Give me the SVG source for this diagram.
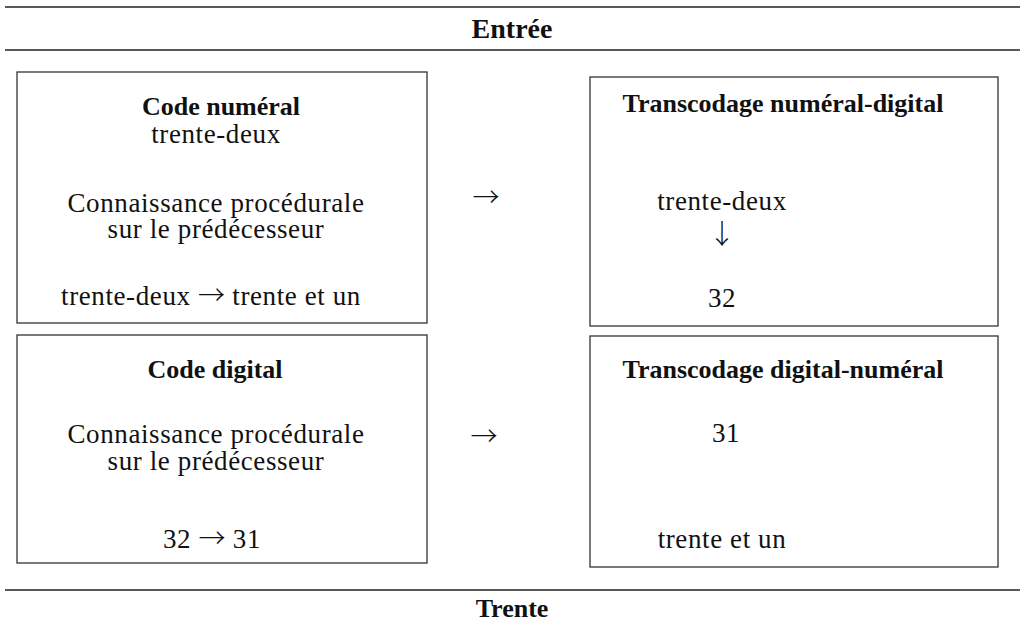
<svg xmlns="http://www.w3.org/2000/svg" width="1020" height="632" viewBox="0 0 1020 632">
<style>
.rule{stroke:#222;stroke-width:1.5;fill:none}
.box{stroke:#333;stroke-width:1.3;fill:#fff}
text{font-family:"Liberation Serif","Times New Roman",serif;fill:#111;text-anchor:middle}
.b{font-weight:bold;font-size:26px}
.h{font-weight:bold;font-size:28px}
.r{font-size:27px;letter-spacing:0.6px}
.a{font-family:"Noto Sans CJK JP","DejaVu Sans",sans-serif;font-size:27px;letter-spacing:0;font-weight:300}
.arr{font-family:"Noto Sans CJK JP","DejaVu Sans",sans-serif;font-size:27px;font-weight:300}
</style>
<rect width="1020" height="632" fill="#fff"/>
<g id="header">
<line class="rule" x1="5" y1="7" x2="1020" y2="7"/>
<text class="h" x="512" y="38">Entrée</text>
<line class="rule" x1="5" y1="50" x2="1020" y2="50"/>
</g>
<g id="code-numeral">
<rect class="box" x="17" y="72" width="410" height="251"/>
<text class="b" x="221" y="115">Code numéral</text>
<text class="r" x="216" y="143">trente-deux</text>
<text class="r" x="216" y="212">Connaissance procédurale</text>
<text class="r" x="216" y="238">sur le prédécesseur</text>
<text class="r" x="211" y="305">trente-deux <tspan class="a">→</tspan> trente et un</text>
</g>
<g id="transcodage-numeral-digital">
<rect class="box" x="590" y="77" width="408" height="249"/>
<text class="b" x="783" y="112">Transcodage numéral-digital</text>
<text class="r" x="722" y="210">trente-deux</text>
<text class="arr" x="722" y="244">↓</text>
<text class="r" x="722" y="307">32</text>
</g>
<g id="code-digital">
<rect class="box" x="17" y="335" width="410" height="228"/>
<text class="b" x="215" y="378">Code digital</text>
<text class="r" x="216" y="443">Connaissance procédurale</text>
<text class="r" x="216" y="470">sur le prédécesseur</text>
<text class="r" x="212" y="548">32 <tspan class="a">→</tspan> 31</text>
</g>
<g id="transcodage-digital-numeral">
<rect class="box" x="590" y="336" width="408" height="231"/>
<text class="b" x="783" y="378">Transcodage digital-numéral</text>
<text class="r" x="726" y="442">31</text>
<text class="r" x="722" y="548">trente et un</text>
</g>
<g id="connectors">
<text class="arr" x="486" y="207">→</text>
<text class="arr" x="484" y="446">→</text>
</g>
<g id="footer">
<line class="rule" x1="5" y1="590" x2="1020" y2="590"/>
<text class="b" x="512" y="617">Trente</text>
</g>
</svg>
